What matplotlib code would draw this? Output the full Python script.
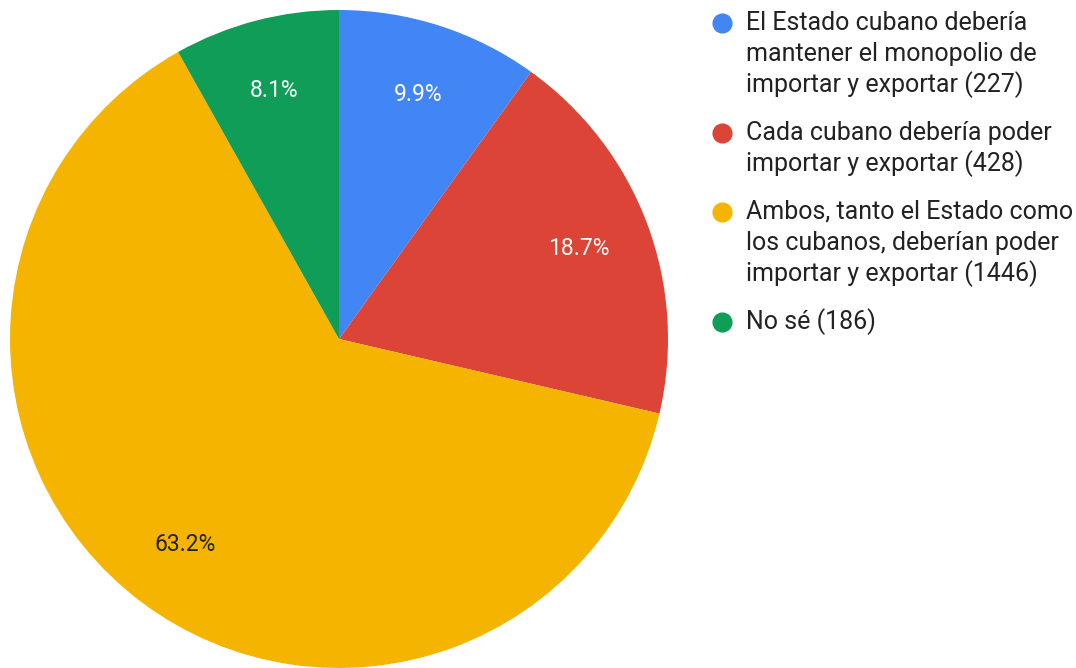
import matplotlib.pyplot as plt
from matplotlib.lines import Line2D

plt.rcParams['font.family'] = ['Roboto', 'DejaVu Sans']

labels = [
    "El Estado cubano debería\nmantener el monopolio de\nimportar y exportar (227)",
    "Cada cubano debería poder\nimportar y exportar (428)",
    "Ambos, tanto el Estado como\nlos cubanos, deberían poder\nimportar y exportar (1446)",
    "No sé (186)",
]
counts = [227, 428, 1446, 186]
colors = ["#4285F4", "#DB4437", "#F4B400", "#0F9D58"]
pct_colors = ["white", "white", "#222222", "white"]

W, H = 1076, 668
fig = plt.figure(figsize=(W / 100, H / 100), dpi=100)

# pie: centre (339, 339) px, radius 329 px
cx, cy, r = 339, 339, 329
ax = fig.add_axes([(cx - r) / W, (H - cy - r) / H, 2 * r / W, 2 * r / H])
wedges, texts, autotexts = ax.pie(
    counts, colors=colors, startangle=90, counterclock=False,
    autopct="%1.1f%%", pctdistance=0.78, radius=1,
    wedgeprops=dict(linewidth=0), textprops=dict(fontsize=16.5),
)
for t, c in zip(autotexts, pct_colors):
    t.set_color(c)
ax.set_xlim(-1, 1)
ax.set_ylim(-1, 1)
ax.set_aspect("equal")
ax.axis("off")

# legend drawn by hand, Google Charts style
line_h = 31
gap = 17
y = 23
for lab, col in zip(labels, colors):
    fig.add_artist(Line2D([722 / W], [1 - y / H], marker="o", markersize=13.5,
                          color=col, linestyle="none", transform=fig.transFigure))
    for i, line in enumerate(lab.split("\n")):
        fig.text(746 / W, 1 - (y + i * line_h) / H, line, fontsize=18,
                 color="#222222", va="center", ha="left")
    y += len(lab.split("\n")) * line_h + gap

fig.savefig("out.png", dpi=100, facecolor="white")
